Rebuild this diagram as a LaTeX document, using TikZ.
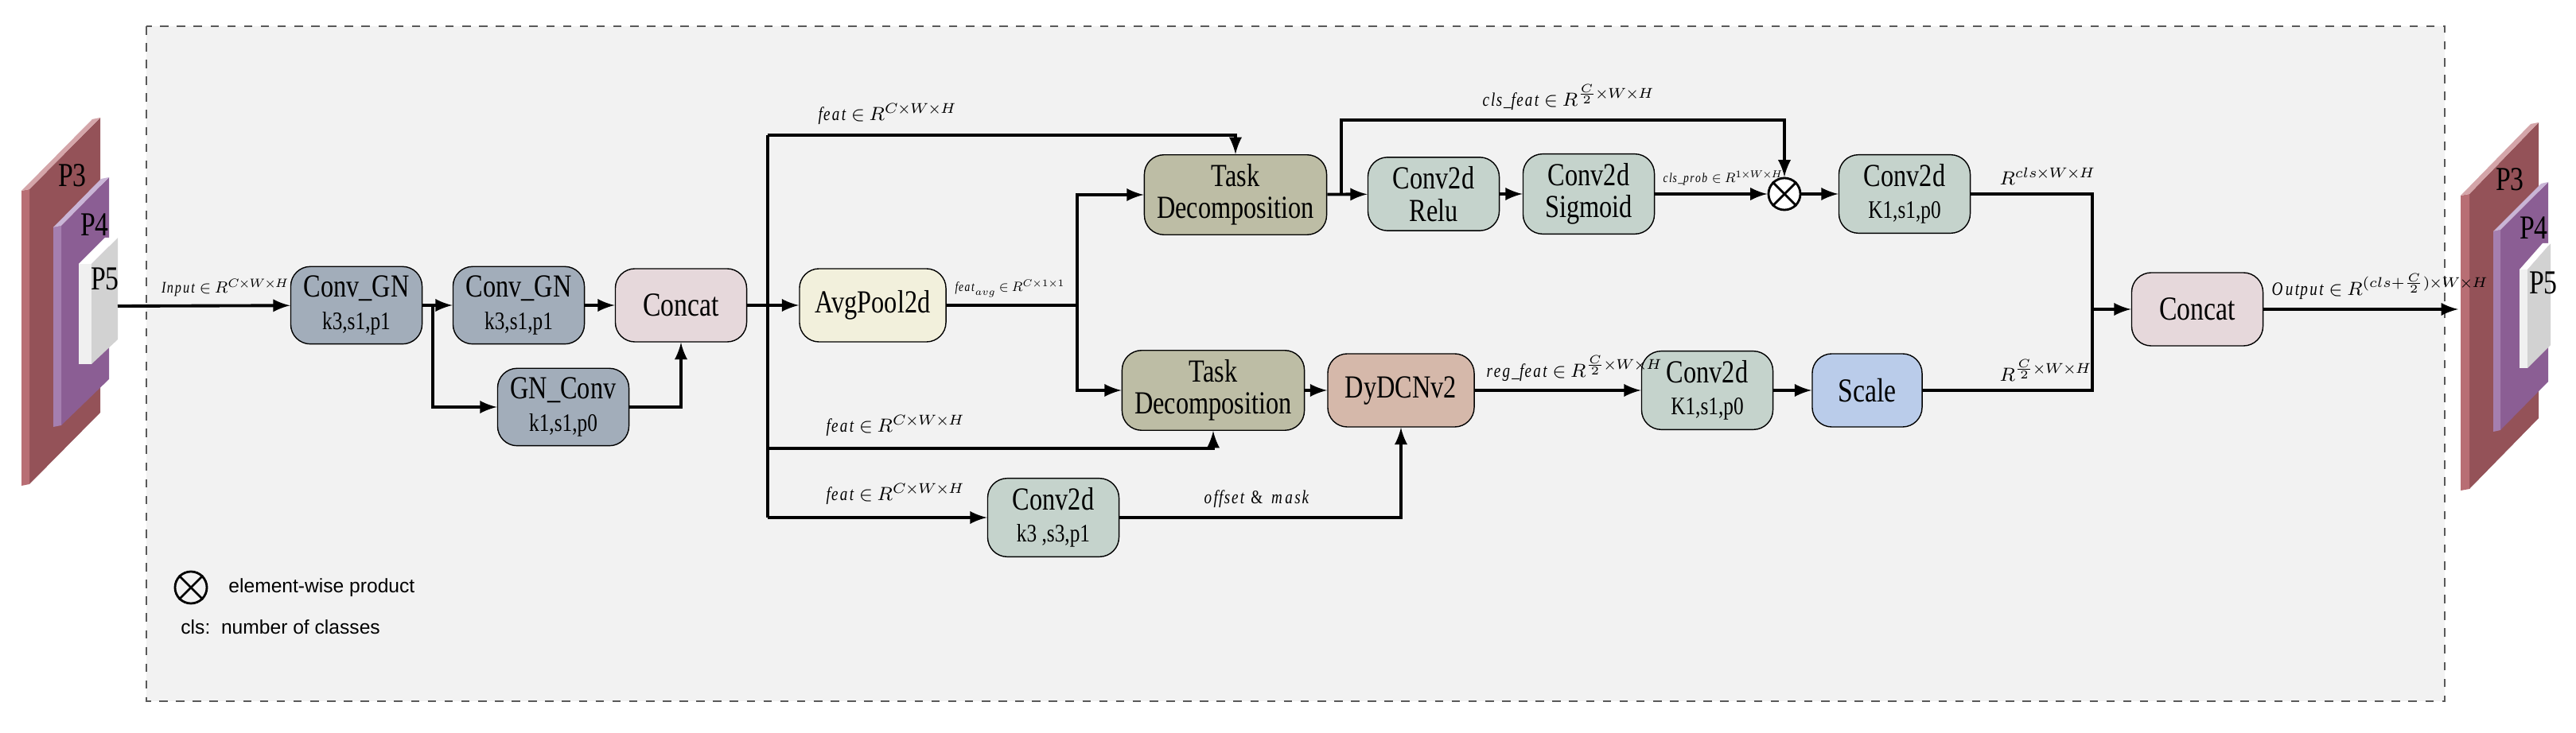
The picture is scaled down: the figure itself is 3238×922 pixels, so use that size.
\documentclass[tikz,border=0pt]{standalone}
\usepackage{fontspec}
\setmainfont{Liberation Serif}[FakeStretch=0.8]
\newfontfamily\legendfont{Liberation Sans}
\usepackage{amsmath}
\usepackage{tikz}
\usetikzlibrary{positioning}
\definecolor{bgGray}{HTML}{F2F2F2}
\definecolor{gnColor}{HTML}{A2ADBA}
\definecolor{catColor}{HTML}{E6D8DB}
\definecolor{avgColor}{HTML}{F2F0DC}
\definecolor{tdColor}{HTML}{BDBDA5}
\definecolor{convColor}{HTML}{C5D3CC}
\definecolor{dcnColor}{HTML}{D5B8AA}
\definecolor{scaleColor}{HTML}{BACCEA}
\definecolor{pThree}{HTML}{945258}
\definecolor{pThreeSide}{HTML}{B86E74}
\definecolor{pThreeTop}{HTML}{D4A5A9}
\definecolor{pFour}{HTML}{8B5E94}
\definecolor{pFourSide}{HTML}{A57FB0}
\definecolor{pFourTop}{HTML}{C9B5D6}
\newcommand{\inR}{\mkern-1mu\in\mkern-1mu R}
\newcommand{\dims}[1]{^{#1\mkern-1mu\times\mkern-1mu W\mkern-1mu\times\mkern-1mu H}}
\begin{document}
\begin{tikzpicture}[x=0.01cm,y=-0.01cm,%%
  boxStyle/.style={draw,rounded corners=7pt,align=center,minimum width=1.65cm,minimum height=0.92cm,font=\fontsize{11.5}{11.5}\selectfont},%%
  arrowStyle/.style={-latex,line width=1.1pt},%%
  lineStyle/.style={-,line width=1.1pt},%%
  labelStyle/.style={font=\fontsize{8}{9}\selectfont,inner sep=1pt,scale=0.85,transform shape},%%
  tinyStyle/.style={font=\fontsize{8}{9}\selectfont,inner sep=1pt,scale=0.6,transform shape},%%
  prodStyle/.style={draw,circle,line width=0.8pt,minimum size=0.4cm,inner sep=0pt,fill=white}%%
]
%%
\useasboundingbox (0,0) rectangle (3238,922);
%% Frame.
\draw[dashed,gray!70!black,fill=bgGray] (184,33) rectangle (3073,882);
%% Input feature maps.
\fill[pThree] (37,238) -- (126,148) -- (126,519) -- (37,609) -- cycle;
\fill[pThreeSide] (27,240) -- (37,238) -- (37,609) -- (27,611) -- cycle;
\fill[pThreeTop] (27,240) -- (116,150) -- (126,148) -- (37,238) -- cycle;
\fill[pFour] (77,284) -- (137,223) -- (137,477) -- (77,535) -- cycle;
\fill[pFourSide] (67,286) -- (77,284) -- (77,535) -- (67,537) -- cycle;
\fill[pFourTop] (67,286) -- (127,225) -- (137,223) -- (77,284) -- cycle;
\fill[gray!35] (115,332) -- (148,299) -- (148,427) -- (115,458) -- cycle;
\fill[gray!12] (99,332) -- (115,332) -- (115,458) -- (99,458) -- cycle;
\fill[white] (99,332) -- (132,299) -- (148,299) -- (115,332) -- cycle;
\node[font=\large] (lP3) at (91,221) {P3};
\node[font=\large] (lP4) at (119,283) {P4};
\node[font=\large] (lP5) at (132,351) {P5};
%% Output feature maps.
\fill[pThree] (3104,244) -- (3191,154) -- (3191,526) -- (3104,615) -- cycle;
\fill[pThreeSide] (3093,246) -- (3104,244) -- (3104,615) -- (3093,617) -- cycle;
\fill[pThreeTop] (3093,246) -- (3181,156) -- (3191,154) -- (3104,244) -- cycle;
\fill[pFour] (3143,289) -- (3203,229) -- (3203,480) -- (3143,541) -- cycle;
\fill[pFourSide] (3134,291) -- (3143,289) -- (3143,541) -- (3134,543) -- cycle;
\fill[pFourTop] (3134,291) -- (3194,231) -- (3203,229) -- (3143,289) -- cycle;
\fill[gray!35] (3177,339) -- (3206,306) -- (3206,434) -- (3177,463) -- cycle;
\fill[gray!12] (3167,339) -- (3177,339) -- (3177,463) -- (3167,463) -- cycle;
\fill[white] (3167,339) -- (3196,306) -- (3206,306) -- (3177,339) -- cycle;
\node[font=\large] (rP3) at (3155,226) {P3};
\node[font=\large] (rP4) at (3185,287) {P4};
\node[font=\large] (rP5) at (3197,356) {P5};
%% Blocks.
\node[boxStyle,fill=gnColor] (convGnA) at (448,384) {Conv\_GN\\{\small k3,s1,p1}};
\node[boxStyle,fill=gnColor] (convGnB) at (652,384) {Conv\_GN\\{\small k3,s1,p1}};
\node[boxStyle,fill=gnColor] (gnConv) at (708,512) {GN\_Conv\\{\small k1,s1,p0}};
\node[boxStyle,fill=catColor] (catIn) at (856,384) {\large Concat};
\node[boxStyle,fill=avgColor,minimum width=1.84cm] (avgPool) at (1097,384) {AvgPool2d};
\node[boxStyle,fill=tdColor,minimum width=2.29cm] (taskCls) at (1553,245) {Task\\Decomposition};
\node[boxStyle,fill=tdColor,minimum width=2.29cm] (taskReg) at (1525,491) {Task\\Decomposition};
\node[boxStyle,fill=convColor] (convRelu) at (1802,244) {Conv2d\\Relu};
\node[boxStyle,fill=convColor] (convSig) at (1997,244) {Conv2d\\Sigmoid};
\node[prodStyle] (prod) at (2243,244) {};
\draw[line width=0.8pt] (prod.north west) -- (prod.south east) (prod.north east) -- (prod.south west);
\node[boxStyle,fill=convColor] (convCls) at (2394,244) {Conv2d\\{\small K1,s1,p0}};
\node[boxStyle,fill=dcnColor,minimum width=1.84cm] (dyDcn) at (1761,491) {DyDCNv2};
\node[boxStyle,fill=convColor] (convReg) at (2146,491) {Conv2d\\{\small K1,s1,p0}};
\node[boxStyle,fill=scaleColor,minimum width=1.38cm] (scale) at (2347,491) {\large Scale};
\node[boxStyle,fill=convColor] (convOff) at (1324,651) {Conv2d\\{\small k3 ,s3,p1}};
\node[boxStyle,fill=catColor] (catOut) at (2762,389) {\large Concat};
%% Junction points.
\coordinate (inStart) at (148,385);
\coordinate (splitA) at (544,384);
\coordinate (trunk) at (965,384);
\coordinate (featTop) at (965,170);
\coordinate (featMid) at (965,564);
\coordinate (featLow) at (965,651);
\coordinate (avgSplit) at (1354,384);
\coordinate (clsSplit) at (1686,245);
\coordinate (clsTop) at (1686,151);
\coordinate (joinTop) at (2630,244);
\coordinate (joinMid) at (2630,389);
\coordinate (joinBot) at (2630,491);
\coordinate (outEnd) at (3090,389);
%% Connectors.
\draw[arrowStyle] (inStart) -- (convGnA);
\draw[arrowStyle] (convGnA) -- (convGnB);
\draw[arrowStyle] (splitA) |- (gnConv);
\draw[arrowStyle] (gnConv) -| (catIn);
\draw[arrowStyle] (convGnB) -- (catIn);
\draw[arrowStyle] (catIn) -- (avgPool);
\draw[arrowStyle] (featTop) -| (taskCls);
\draw[lineStyle] (featTop) -- (featLow);
\draw[arrowStyle] (featMid) -| (taskReg);
\draw[arrowStyle] (featLow) -- (convOff);
\draw[lineStyle] (avgPool) -- (avgSplit);
\draw[arrowStyle] (avgSplit) |- (taskCls);
\draw[arrowStyle] (avgSplit) |- (taskReg);
\draw[arrowStyle] (taskCls) -- (convRelu);
\draw[arrowStyle] (clsSplit) -- (clsTop) -| (prod);
\draw[arrowStyle] (convRelu) -- (convSig);
\draw[arrowStyle] (convSig) -- (prod);
\draw[arrowStyle] (prod) -- (convCls);
\draw[arrowStyle] (taskReg) -- (dyDcn);
\draw[arrowStyle] (convOff) -| (dyDcn);
\draw[arrowStyle] (dyDcn) -- (convReg);
\draw[arrowStyle] (convReg) -- (scale);
\draw[lineStyle] (convCls) -- (joinTop) -- (joinBot) -- (scale);
\draw[arrowStyle] (joinMid) -- (catOut);
\draw[arrowStyle] (catOut) -- (outEnd);
%% Labels.
\node[labelStyle,scale=0.85,anchor=south west] (lblIn) at (200,376) {$\mathit{Input}\inR\dims{C}$};
\node[labelStyle,anchor=south west] (lblFeatA) at (1025,160) {$\mathit{feat}\inR\dims{C}$};
\node[labelStyle,anchor=south west] (lblFeatB) at (1035,552) {$\mathit{feat}\inR\dims{C}$};
\node[labelStyle,anchor=south west] (lblFeatC) at (1035,638) {$\mathit{feat}\inR\dims{C}$};
\node[tinyStyle,anchor=south west] (lblAvg) at (1198,376) {$\mathit{feat}_{avg}\inR^{C\times1\times1}$};
\node[labelStyle,anchor=south west] (lblCls) at (1860,142) {$\mathit{cls\_feat}\inR\dims{\frac{C}{2}}$};
\node[tinyStyle,anchor=south west] (lblProb) at (2088,236) {$\mathit{cls\_prob}\inR\dims{1}$};
\node[labelStyle,anchor=south west] (lblClsOut) at (2510,236) {$R\dims{cls}$};
\node[labelStyle,anchor=south west] (lblOff) at (1510,642) {$\mathit{offset}\;\&\;\mathit{mask}$};
\node[labelStyle,anchor=south west] (lblReg) at (1865,483) {$\mathit{reg\_feat}\inR\dims{\frac{C}{2}}$};
\node[labelStyle,anchor=south west] (lblRegOut) at (2510,483) {$R\dims{\frac{C}{2}}$};
\node[labelStyle,anchor=south west] (lblOut) at (2852,380) {$\mathit{Output}\inR\dims{(cls+\frac{C}{2})}$};
%% Legend.
\node[prodStyle,fill=none] (legProd) at (240,739) {};
\draw[line width=0.8pt] (legProd.north west) -- (legProd.south east) (legProd.north east) -- (legProd.south west);
\node[font=\legendfont\scriptsize,anchor=west] (legProdText) at (275,739) {element-wise product};
\node[font=\legendfont\scriptsize,anchor=west] (legCls) at (215,789) {cls:\ \ number of classes};
\end{tikzpicture}
\end{document}
